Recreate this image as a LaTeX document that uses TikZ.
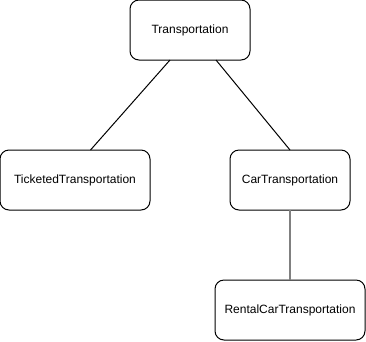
\documentclass[tikz,border=0pt]{standalone}
\usepackage{fontspec}
\setmainfont{Liberation Sans}
\tikzset{
  classbox/.style={draw, rounded corners=9pt, line width=1pt, inner sep=0pt, outer sep=0pt,
    minimum height=60pt, font=\fontsize{12}{14}\selectfont},
}
\begin{document}
\begin{tikzpicture}[x=1pt,y=-1pt]
      \useasboundingbox (0,0) rectangle (366,341);
      \draw
        (190,30) node[classbox, minimum width=120pt] (transport){Transportation}
        (75,180) node[classbox, minimum width=150pt] (ticketed){TicketedTransportation}
        (290,180) node[classbox, minimum width=120pt] (car){CarTransportation}
        (290,310) node[classbox, minimum width=150pt] (rental){RentalCarTransportation};
      \begin{scope}[-, line width=1pt]
        \draw ([xshift=-20pt]transport.south) to ([xshift=15.5pt]ticketed.north);
        \draw ([xshift=26pt]transport.south) to (car.north);
        \draw[gray, line width=1.4pt] (car) to (rental);
      \end{scope}
    \end{tikzpicture}
\end{document}
